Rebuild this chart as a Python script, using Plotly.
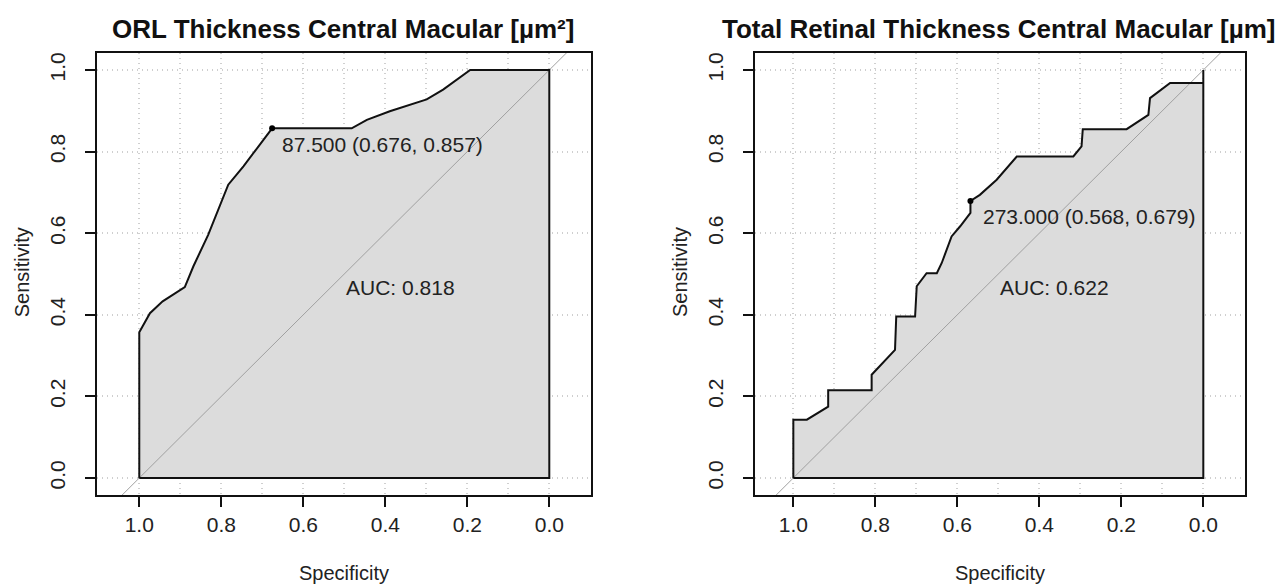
import plotly.graph_objects as go

# ---- data ----
left_spec = [1.0, 1.0, 0.974, 0.943, 0.889, 0.868, 0.832, 0.783, 0.746, 0.676,
             0.482, 0.445, 0.389, 0.299, 0.259, 0.193, 0.0]
left_sens = [0.0, 0.357, 0.404, 0.433, 0.468, 0.519, 0.596, 0.719, 0.764, 0.857,
             0.857, 0.878, 0.899, 0.928, 0.952, 1.0, 1.0]

right_spec = [1.0, 1.0, 0.967, 0.918, 0.915, 0.915, 0.809, 0.809, 0.752, 0.749,
              0.703, 0.699, 0.675, 0.650, 0.638, 0.614, 0.593, 0.568, 0.568,
              0.545, 0.504, 0.455, 0.317, 0.297, 0.294, 0.187, 0.134, 0.130,
              0.081, 0.0, 0.0]
right_sens = [0.0, 0.143, 0.143, 0.175, 0.175, 0.215, 0.215, 0.253, 0.314, 0.396,
              0.396, 0.470, 0.502, 0.502, 0.527, 0.592, 0.617, 0.650, 0.679,
              0.694, 0.731, 0.788, 0.788, 0.813, 0.855, 0.855, 0.890, 0.931,
              0.968, 0.968, 1.0]

titles = ["ORL Thickness Central Macular [µm²]",
          "Total Retinal Thickness Central Macular [µm]"]
best_thr = ["87.500", "273.000"]
best_spec = [0.676, 0.568]
best_sens = [0.857, 0.679]
auc_vals = [0.818, 0.622]
tick_vals = [0.0, 0.2, 0.4, 0.6, 0.8, 1.0]
tick_text = ["0.0", "0.2", "0.4", "0.6", "0.8", "1.0"]

W, H = 1283, 584
OFF = 8  # page body margin
FILL = "#dcdcdc"
FONT = "Liberation Sans, Arial, sans-serif"
TXT = "#222222"
GRID = "#cfcfcf"


def fx(px):
    return (px - OFF) / W


def fy(py):
    return 1 - (py - OFF) / H


fig = go.Figure()

panels = [
    dict(x0=97.3, x1=590.7, xr=[1.1024, -0.1010], xa="x", ya="y", tcx=343.0),
    dict(x0=755.0, x1=1245.0, xr=[1.0935, -0.1017], xa="x2", ya="y2", tcx=998.5),
]
py0, py1 = 53.0, 495.0
yr = [-0.0417, 1.0417]

curves = [(left_spec, left_sens), (right_spec, right_sens)]
label_pos = [(0.658, 0.817), (0.543, 0.641)]

for i, p in enumerate(panels):
    sp, se = curves[i]
    px = list(sp) + [sp[-1], sp[0]]
    py = list(se) + [0.0, se[0]]
    fig.add_trace(go.Scatter(x=px, y=py, mode="lines", fill="toself",
                             fillcolor=FILL, line=dict(color="rgba(0,0,0,0)", width=0),
                             xaxis=p["xa"], yaxis=p["ya"], hoverinfo="skip",
                             showlegend=False))
    fig.add_trace(go.Scatter(x=[1.3, -0.3], y=[-0.3, 1.3], mode="lines",
                             line=dict(color="#a0a0a0", width=1),
                             xaxis=p["xa"], yaxis=p["ya"], hoverinfo="skip",
                             showlegend=False))
    fig.add_trace(go.Scatter(x=px, y=py, mode="lines",
                             line=dict(color="#111111", width=2),
                             xaxis=p["xa"], yaxis=p["ya"], hoverinfo="skip",
                             showlegend=False))
    fig.add_trace(go.Scatter(x=[best_spec[i]], y=[best_sens[i]], mode="markers",
                             marker=dict(color="black", size=6),
                             xaxis=p["xa"], yaxis=p["ya"], showlegend=False))
    lx, ly = label_pos[i]
    fig.add_annotation(x=lx, y=ly, xref=p["xa"], yref=p["ya"],
                       text=f"{best_thr[i]} ({best_spec[i]:.3f}, {best_sens[i]:.3f})",
                       showarrow=False, xanchor="left", yanchor="middle",
                       font=dict(family=FONT, size=21, color=TXT))
    fig.add_annotation(x=0.5, y=0.5, xref=p["xa"], yref=p["ya"],
                       text=f"AUC: {auc_vals[i]:.3f}", showarrow=False,
                       xanchor="left", yanchor="top",
                       font=dict(family=FONT, size=21, color=TXT))
    fig.add_annotation(x=fx(p["tcx"]), y=fy(29), xref="paper", yref="paper",
                       text=f"<b>{titles[i]}</b>", showarrow=False,
                       xanchor="center", yanchor="middle",
                       font=dict(family=FONT, size=26, color="#111111"))
    cx = (p["x0"] + p["x1"]) / 2
    fig.add_annotation(x=fx(cx), y=fy(573), xref="paper", yref="paper",
                       text="Specificity", showarrow=False,
                       xanchor="center", yanchor="middle",
                       font=dict(family=FONT, size=20, color=TXT))
    fig.add_annotation(x=fx(p["x0"] - 75), y=fy(272), xref="paper", yref="paper",
                       text="Sensitivity", showarrow=False, textangle=-90,
                       xanchor="center", yanchor="middle",
                       font=dict(family=FONT, size=20, color=TXT))

axis_common = dict(showline=True, linecolor="#111111", linewidth=2, mirror=True,
                   ticks="outside", ticklen=10, tickwidth=2, tickcolor="#111111",
                   tickvals=tick_vals, ticktext=tick_text, zeroline=False,
                   tickfont=dict(family=FONT, size=21, color=TXT))

for i, p in enumerate(panels):
    xkey = "xaxis" if i == 0 else "xaxis2"
    ykey = "yaxis" if i == 0 else "yaxis2"
    fig.update_layout(**{
        xkey: dict(axis_common, domain=[fx(p["x0"]), fx(p["x1"])], range=p["xr"],
                   anchor=p["ya"], showgrid=True, gridcolor=GRID, griddash="1px,4px",
                   gridwidth=1.5, ticklabelstandoff=0,
                   minor=dict(dtick=0.1, tick0=0, showgrid=True, gridcolor=GRID,
                              griddash="1px,4px", gridwidth=1.5, ticks="")),
        ykey: dict(axis_common, domain=[fy(py1), fy(py0)], range=yr,
                   anchor=p["xa"], showgrid=True, gridcolor=GRID, griddash="1px,4px",
                   gridwidth=1.5, tickangle=-90, ticklabelstandoff=12),
    })

fig.update_layout(width=W, height=H, margin=dict(l=0, r=0, t=0, b=0),
                  paper_bgcolor="white", plot_bgcolor="white", showlegend=False)

fig.write_html("out.html")
